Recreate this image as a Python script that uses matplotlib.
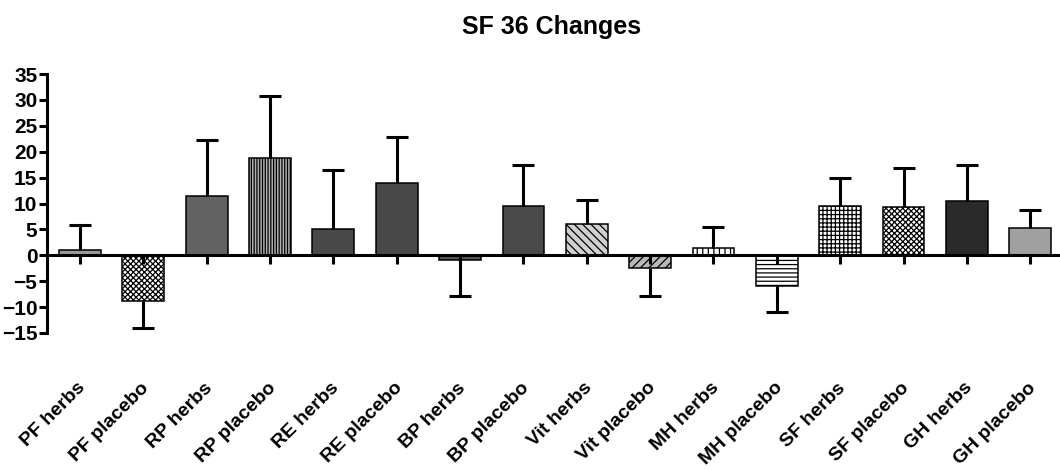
import numpy as np
import matplotlib
matplotlib.use('Agg')
import matplotlib.pyplot as plt

plt.rcParams['font.family'] = ['Liberation Sans', 'DejaVu Sans']
plt.rcParams['hatch.linewidth'] = 0.9

# SF-36 domain changes, herbs vs placebo
labels = ['PF herbs', 'PF placebo', 'RP herbs', 'RP placebo', 'RE herbs',
          'RE placebo', 'BP herbs', 'BP placebo', 'Vit herbs', 'Vit placebo',
          'MH herbs', 'MH placebo', 'SF herbs', 'SF placebo', 'GH herbs',
          'GH placebo']
means = [1.1, -8.8, 11.5, 18.8, 5.0, 13.9, -1.0, 9.5, 6.1, -2.4,
         1.4, -5.9, 9.5, 9.3, 10.5, 5.3]
errors = [4.7, 5.3, 10.7, 12.0, 11.4, 8.9, 6.9, 7.9, 4.6, 5.5,
          4.1, 5.0, 5.4, 7.6, 6.9, 3.5]

# fill and hatch for each bar
faces = ['#9a9a9a', 'white', '#626262', '#b0b0b0', '#484848', '#484848',
         '#555555', '#4a4a4a', '#d0d0d0', '#b8b8b8', 'white', 'white',
         'white', 'white', '#2a2a2a', '#a0a0a0']
hatches = [None, 'xxxxxx', None, '||||||', None, None, None, None,
           '\\\\\\\\', '////', '|||', '----', '++++', 'xxxxxx', None, None]

fig = plt.figure(figsize=(10.6, 4.7), dpi=100)
ax = fig.add_axes([47 / 1060, 137 / 470, 1013 / 1060, 259 / 470])

x = np.arange(len(labels))
bars = ax.bar(x, means, width=0.66, color=faces, edgecolor='black',
              linewidth=1.1, zorder=1)
for b, h in zip(bars, hatches):
    if h:
        b.set_hatch(h)

# one-sided error bars pointing away from zero
means_a = np.array(means)
ends = means_a + np.sign(means_a) * np.array(errors)
ax.vlines(x, means_a, ends, color='black', linewidth=2.2, zorder=2)
ax.plot(x, ends, linestyle='none', marker='_', markersize=16,
        markeredgewidth=2.2, color='black', zorder=2)

ax.set_xlim(-0.52, 15.47)
ax.set_ylim(-15, 35)
ax.set_yticks(np.arange(-15, 36, 5))

for s in ['top', 'right']:
    ax.spines[s].set_visible(False)
ax.spines['bottom'].set_position(('data', 0))
ax.spines['bottom'].set_linewidth(2.2)
ax.spines['left'].set_linewidth(2.2)

ax.set_xticks(x)
ax.set_xticklabels([])
ax.tick_params(axis='x', direction='out', length=6.5, width=2.2)
ax.tick_params(axis='y', direction='out', length=6, width=2.2, pad=1,
               labelsize=15)
for t in ax.get_yticklabels():
    t.set_fontweight('bold')

for xi, lab in zip(x, labels):
    ax.text(xi + 0.05, -25.1, lab, rotation=45, rotation_mode='anchor',
            ha='right', va='center', fontsize=14, fontweight='bold',
            clip_on=False)

fig.text(552 / 1060, 1 - 27 / 470, 'SF 36 Changes', ha='center',
         va='center', fontsize=18, fontweight='bold')

fig.savefig('out.png', dpi=100)
